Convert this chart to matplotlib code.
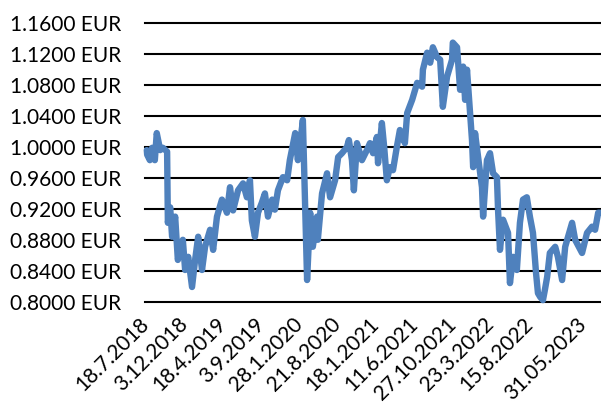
import numpy as np
import matplotlib.pyplot as plt

# ============================================================
# FONT / STYLE
# ============================================================
FONT = ["Lato", "DejaVu Sans"]
TICK_FONTSIZE = 15
LINE_COLOR = "#4f81bd"

plt.rcParams.update({
    "font.family": FONT,
    "font.size": TICK_FONTSIZE,
    "xtick.labelsize": TICK_FONTSIZE,
    "ytick.labelsize": TICK_FONTSIZE,
})

# ── Data (category index of trading day, rate in EUR) ───────
day_index = [
    2, 3, 10, 16, 23, 28, 37, 44, 55, 57, 63, 68, 76, 83, 96, 102, 110, 120,
    128, 136, 146, 154, 167, 175, 185, 198, 211, 219, 227, 240, 253, 263, 271,
    276, 284, 292, 302, 310, 318, 329, 336, 344, 357, 368, 375, 389, 396, 407,
    409, 420, 428, 435, 446, 448, 459, 472, 480, 493, 501, 511, 524, 529, 537,
    542, 550, 563, 576, 584, 592, 602, 605, 615, 621, 628, 636, 644, 654, 662,
    675, 681, 694, 707, 720, 722, 733, 741, 748, 759, 767, 774, 785, 798, 800,
    811, 819, 827, 832, 837, 845, 850, 853, 858, 866, 876, 879, 889, 897, 905,
    915, 918, 923, 931, 944, 949, 957, 967, 975, 983, 993, 1001, 1009, 1017,
    1022, 1028, 1035, 1040, 1046, 1053, 1067, 1074, 1085, 1093, 1111, 1119,
    1137, 1150, 1163, 1171, 1179, 1186,
]
rate_eur = [
    0.996, 0.990, 0.983, 0.999, 0.983, 1.018, 0.996, 0.999, 0.994, 0.902,
    0.922, 0.884, 0.910, 0.854, 0.880, 0.841, 0.858, 0.819, 0.854, 0.884,
    0.841, 0.871, 0.893, 0.867, 0.910, 0.932, 0.915, 0.948, 0.918, 0.944,
    0.953, 0.935, 0.957, 0.905, 0.884, 0.915, 0.928, 0.940, 0.910, 0.932,
    0.919, 0.944, 0.961, 0.957, 0.983, 1.018, 0.983, 1.026, 1.035, 0.828,
    0.915, 0.871, 0.910, 0.880, 0.940, 0.966, 0.935, 0.957, 0.987, 0.992,
    1.000, 1.009, 0.983, 0.944, 1.005, 0.983, 0.996, 1.005, 0.992, 1.013,
    0.979, 1.031, 1.000, 0.957, 0.974, 0.970, 1.000, 1.022, 1.005, 1.044,
    1.061, 1.083, 1.078, 1.100, 1.122, 1.109, 1.129, 1.116, 1.113, 1.052,
    1.091, 1.113, 1.135, 1.129, 1.074, 1.104, 1.061, 1.100, 1.044, 1.009,
    0.974, 1.018, 0.987, 0.948, 0.910, 0.983, 0.992, 0.966, 0.961, 0.918,
    0.867, 0.906, 0.889, 0.824, 0.858, 0.841, 0.902, 0.932, 0.935, 0.910,
    0.889, 0.837, 0.811, 0.806, 0.802, 0.815, 0.832, 0.863, 0.871, 0.858,
    0.828, 0.871, 0.902, 0.880, 0.863, 0.889, 0.897, 0.893, 0.915, 0.915,
]

tick_pos = [0, 100, 200, 300, 400, 500, 600, 700, 800, 900, 1000, 1141]
tick_labels = [
    "18.7.2018", "3.12.2018", "18.4.2019", "3.9.2019", "28.1.2020",
    "21.8.2020", "18.1.2021", "11.6.2021", "27.10.2021", "23.3.2022",
    "15.8.2022", "31.05.2023",
]
y_ticks = np.arange(0.80, 1.1601, 0.04)

# ============================================================
# PLOT
# ============================================================
fig = plt.figure(figsize=(6.01, 4.05), dpi=100)
ax = fig.add_axes([0.2413, 0.2551, 0.7587, 0.6874])

for yv in y_ticks:
    ax.axhline(yv, color="black", linewidth=1.5, zorder=1, clip_on=False)

ax.plot(day_index, rate_eur, color=LINE_COLOR, linewidth=4.6,
        solid_joinstyle="round", solid_capstyle="round",
        zorder=3, clip_on=False)

ax.set_xlim(-2.6, 1186.4)
ax.set_ylim(0.80, 1.16)

ax.set_yticks(y_ticks)
ax.set_yticklabels([f"{v:.4f} EUR" for v in y_ticks])
ax.tick_params(axis="y", length=0, pad=17)

ax.set_xticks(tick_pos)
ax.set_xticklabels(tick_labels, rotation=45, ha="right", va="center",
                   rotation_mode="anchor")
ax.tick_params(axis="x", length=0, pad=14)

for s in ax.spines.values():
    s.set_visible(False)

plt.savefig("out.png", dpi=100)
